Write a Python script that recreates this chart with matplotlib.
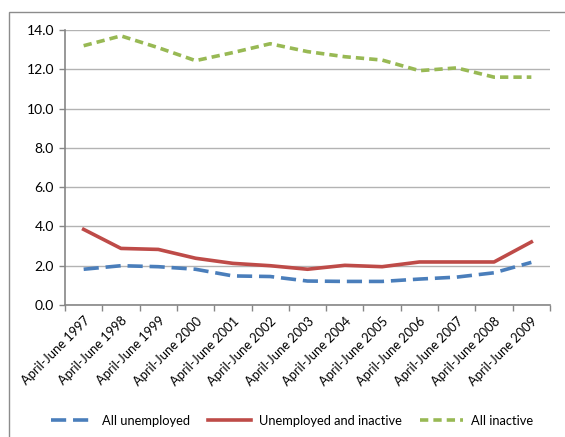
import matplotlib
matplotlib.use("Agg")
import numpy as np
import matplotlib.pyplot as plt
from matplotlib.patches import Rectangle

plt.rcParams["font.family"] = ["Lato", "DejaVu Sans"]

# ── Series ────────────────────────────────────────────────────────
years = list(range(1997, 2010))
periods = [f"April-June {y}" for y in years]

all_unemployed = [1.82, 2.00, 1.95, 1.82, 1.48, 1.45, 1.22, 1.20, 1.20, 1.32, 1.42, 1.64, 2.17]
unemp_inactive = [3.85, 2.88, 2.83, 2.38, 2.12, 2.00, 1.82, 2.02, 1.95, 2.19, 2.19, 2.19, 3.21]
all_inactive   = [13.2, 13.7, 13.1, 12.44, 12.85, 13.3, 12.9, 12.64, 12.47, 11.93, 12.07, 11.6, 11.6]

# ── Figure ────────────────────────────────────────────────────────
fig = plt.figure(figsize=(5.65, 4.37), dpi=100)
ax = fig.add_axes([65 / 565, 1 - 305 / 437, 485 / 565, 275 / 437])

# chart frame
fig.patches.append(Rectangle((9 / 565, -0.5), 2.0, 0.5 + 1 - 12 / 437,
                             transform=fig.transFigure, fill=False,
                             edgecolor="#8c8c8c", linewidth=1.0))

x = np.arange(len(periods))
lw = 2.6
ax.plot(x, all_unemployed, color="#4a7ebb", lw=lw, dashes=(4.2, 1.9), label="All unemployed")
ax.plot(x, unemp_inactive, color="#be4b48", lw=lw, label="Unemployed and inactive")
ax.plot(x, all_inactive, color="#98b954", lw=lw, dashes=(2.3, 1.4), label="All inactive")

ax.set_xlim(-0.5, len(periods) - 0.5)
ax.set_ylim(0, 14)
ax.set_yticks(np.arange(0, 15, 2))
ax.set_yticklabels([f"{v:.1f}" for v in np.arange(0, 15, 2)], fontsize=10)
ax.yaxis.grid(True, color="#b3b3b3", linewidth=1.0)
ax.set_axisbelow(True)

# category labels between the boundary ticks
ax.set_xticks(x)
ax.set_xticklabels(periods, rotation=45, ha="right", rotation_mode="anchor", fontsize=9.3)
ax.tick_params(axis="x", which="major", length=0, pad=7)
ax.set_xticks(np.arange(-0.5, len(periods)), minor=True)
ax.tick_params(axis="x", which="minor", length=4, color="#868686", width=1)
ax.tick_params(axis="y", length=4, color="#868686", width=1, pad=4)

for side in ("top", "right"):
    ax.spines[side].set_visible(False)
for side in ("left", "bottom"):
    ax.spines[side].set_color("#868686")
    ax.spines[side].set_linewidth(1.2)

fig.legend(loc="center", bbox_to_anchor=(292 / 565, 1 - 421 / 437), ncol=3,
           frameon=False, fontsize=9.3, handlelength=3.3, columnspacing=1.4,
           handletextpad=0.65)

fig.savefig("out.png", dpi=100)
